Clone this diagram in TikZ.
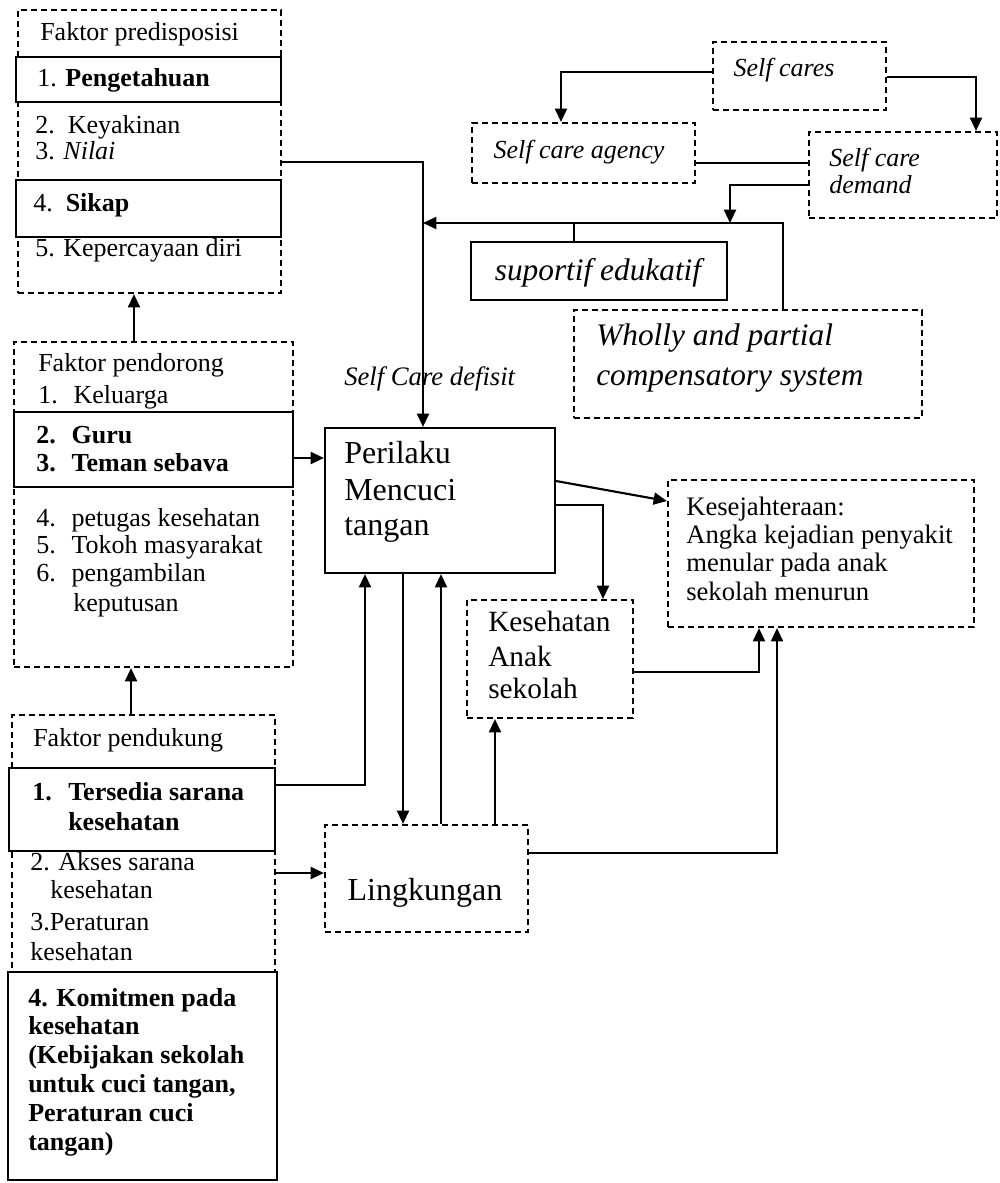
\documentclass[tikz,border=0pt]{standalone}
\usepackage{fontspec}
\setmainfont{Liberation Serif}
\usetikzlibrary{fit,arrows.meta}
\newcommand\numbx[1]{\makebox[26.5pt][l]{#1}}
\tikzset{
  dbox/.style={draw, line width=1.6pt, dash pattern=on 4.5pt off 3pt, inner sep=0pt},
  sbox/.style={draw, line width=1.6pt, inner sep=0pt, fill=white},
  conn/.style={line width=1.6pt},
  arr/.style={conn, -{Triangle[length=10pt,width=9pt]}},
  txt/.style={anchor=mid west, inner sep=0pt, font=\fontsize{19.5}{22}\selectfont},
  itx/.style={anchor=mid west, inner sep=0pt, font=\fontsize{19.5}{22}\selectfont\itshape},
  bigtx/.style={anchor=mid west, inner sep=0pt, font=\fontsize{24}{28}\selectfont},
  midtx/.style={anchor=mid west, inner sep=0pt, font=\fontsize{22}{26}\selectfont},
  bigit/.style={anchor=mid west, inner sep=0pt, font=\fontsize{23.5}{28}\selectfont\itshape},
}
\begin{document}
\begin{tikzpicture}[x=0.75pt,y=-0.75pt]
\useasboundingbox (0,0) rectangle (1000,1183);
% dashed boxes
\node[dbox, fit={(18,10) (281,293)}] (pre) {};
\node[dbox, fit={(14,342) (293,667)}] (pendorong) {};
\node[dbox, fit={(12,715) (275,972)}] (pendukung) {};
\node[dbox, fit={(713,42) (886,110)}] (scares) {};
\node[dbox, fit={(472,123) (695,183)}] (agency) {};
\node[dbox, fit={(809,132) (997,218)}] (demand) {};
\node[dbox, fit={(574,310) (922,418)}] (wholly) {};
\node[dbox, fit={(668,480) (974,627)}] (kesej) {};
\node[dbox, fit={(467,600) (633,718)}] (kesehatan) {};
\node[dbox, fit={(325,825) (528,932)}] (lingk) {};
% solid boxes
\node[sbox, fit={(16,57) (281,102)}] (pre1) {};
\node[sbox, fit={(16,180) (281,237)}] (pre4) {};
\node[sbox, fit={(14,412) (293,487)}] (pend2) {};
\node[sbox, fit={(9,768) (275,851)}] (tersedia) {};
\node[sbox, fit={(8,972) (277,1180)}] (komitmen) {};
\node[sbox, fit={(471,242) (727,300)}] (suportif) {};
\node[sbox, fit={(325,428) (555,573)}] (perilaku) {};
% junction coordinates
\coordinate (jdemand) at (730,223);
\coordinate (jleft) at (423,223);
\coordinate (jsup) at (574,223);
% texts: predisposisi
\node[txt] (tp0) at (40,37) {Faktor predisposisi};
\node[txt] (tp1) at (37,83) {1. \textbf{Pengetahuan}};
\node[txt] (tp2) at (35,130) {2.\ \ Keyakinan};
\node[txt] (tp3) at (35,156) {3. \textit{Nilai}};
\node[txt] (tp4) at (33,208) {4.\ \ \textbf{Sikap}};
\node[txt] (tp5) at (35,253) {5. Kepercayaan diri};
% pendorong
\node[txt] (td0) at (38,368) {Faktor pendorong};
\node[txt] (td1) at (38,400) {\numbx{1.}Keluarga};
\node[txt] (td2) at (36,440) {\bfseries\numbx{2.}Guru};
\node[txt] (td3) at (36,468) {\bfseries\numbx{3.}Teman sebava};
\node[txt] (td4) at (36,523) {\numbx{4.}petugas kesehatan};
\node[txt] (td5) at (36,550) {\numbx{5.}Tokoh masyarakat};
\node[txt] (td6) at (36,578) {\numbx{6.}pengambilan};
\node[txt] (td7) at (73,608) {keputusan};
% pendukung
\node[txt] (tk0) at (33,743) {Faktor pendukung};
\node[txt] (tk1) at (32,797) {\bfseries\makebox[27pt][l]{1.}Tersedia sarana};
\node[txt] (tk2) at (68,827) {\bfseries kesehatan};
\node[txt] (tk3) at (30,867) {2. Akses sarana};
\node[txt] (tk4) at (50,895) {kesehatan};
\node[txt] (tk5) at (30,927) {3.Peraturan};
\node[txt] (tk6) at (30,957) {kesehatan};
\node[txt] (tk7) at (28,1003) {\bfseries 4. Komitmen pada};
\node[txt] (tk8) at (28,1031) {\bfseries kesehatan};
\node[txt] (tk9) at (28,1060) {\bfseries (Kebijakan sekolah};
\node[txt] (tk10) at (28,1089) {\bfseries untuk cuci tangan,};
\node[txt] (tk11) at (28,1118) {\bfseries Peraturan cuci};
\node[txt] (tk12) at (28,1147) {\bfseries tangan)};
% self care part
\node[itx, anchor=mid] (ts0) at (784,73) {Self cares};
\node[itx, anchor=mid] (ts1) at (579,155) {Self care agency};
\node[itx] (ts2) at (829,163) {Self care};
\node[itx] (ts3) at (829,190) {demand};
\node[bigit, anchor=mid] (ts4) at (598,277) {suportif edukatif};
\node[bigit] (ts5) at (596,342) {Wholly and partial};
\node[bigit] (ts6) at (596,382) {compensatory system};
\node[itx, font=\fontsize{20}{24}\selectfont\itshape] (ts7) at (344,382) {Self Care defisit};
% centre
\node[bigtx] (tc0) at (344,460) {Perilaku};
\node[bigtx] (tc1) at (344,497) {Mencuci};
\node[bigtx] (tc2) at (344,532) {tangan};
\node[txt, font=\fontsize{20}{24}\selectfont] (tw0) at (686,512) {Kesejahteraan:};
\node[txt, font=\fontsize{20}{24}\selectfont] (tw1) at (686,540) {Angka kejadian penyakit};
\node[txt, font=\fontsize{20}{24}\selectfont] (tw2) at (686,568) {menular pada anak};
\node[txt, font=\fontsize{20}{24}\selectfont] (tw3) at (686,597) {sekolah menurun};
\node[midtx] (th0) at (488,628) {Kesehatan};
\node[midtx] (th1) at (488,663) {Anak};
\node[midtx] (th2) at (488,695) {sekolah};
\node[bigtx, anchor=mid] (tl0) at (425,897) {Lingkungan};
% connectors
\draw[arr] (pre.east |- 0,162) -| (perilaku.north -| 423,0);
\draw[arr] (scares.west |- 0,72) -| (agency.north -| 561,0);
\draw[arr] (scares.east |- 0,77) -| (demand.north -| 976,0);
\draw[conn] (agency.east |- 0,163) -- (demand.west |- 0,163);
\draw[arr] (demand.west |- 0,185) -| (jdemand);
\draw[arr] (wholly.north -| 783,0) |- (jleft);
\draw[conn] (suportif.north -| jsup) -- (jsup);
\draw[arr] (pendorong.east |- 0,458) -- (perilaku.west |- 0,458);
\draw[arr] (perilaku.east |- 0,481) -- (kesej.west |- 0,501);
\draw[arr] (perilaku.east |- 0,505) -| (kesehatan.north -| 603,0);
\draw[arr] (kesehatan.east |- 0,672) -| (kesej.south -| 759,0);
\draw[arr] (lingk.east |- 0,853) -| (kesej.south -| 777,0);
\draw[arr] (tersedia.east |- 0,785) -| (perilaku.south -| 365,0);
\draw[arr] (perilaku.south -| 403,0) -- (lingk.north -| 403,0);
\draw[arr] (lingk.north -| 441,0) -- (perilaku.south -| 441,0);
\draw[arr] (lingk.north -| 495,0) -- (kesehatan.south -| 495,0);
\draw[arr] (pendukung.east |- 0,873) -- (lingk.west |- 0,873);
\draw[arr] (pendukung.north -| 131,0) -- (pendorong.south -| 131,0);
\draw[arr] (pendorong.north -| 134,0) -- (pre.south -| 134,0);
\end{tikzpicture}
\end{document}
